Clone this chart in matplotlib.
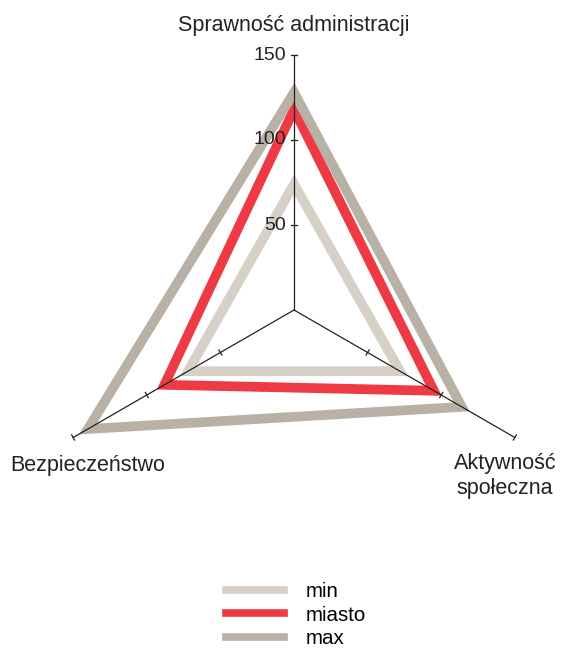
import numpy as np
import matplotlib.pyplot as plt
from matplotlib.patches import Polygon
from matplotlib.lines import Line2D

plt.rcParams['font.family'] = ['Liberation Sans', 'DejaVu Sans']

# Data
categories = ['Sprawność administracji', 'Aktywność\nspołeczna', 'Bezpieczeństwo']
series_names = ['min', 'miasto', 'max']
min_vals = [74, 72, 72]
miasto_vals = [118, 95, 88]
max_vals = [128, 114, 140]
tick_values = [50, 100, 150]
colors = ['#d6d0c7', '#ee3a44', '#b9b1a5']

angles = np.deg2rad([90, -30, 210])
r_max = 150
scale = 1.7  # px per unit

fig = plt.figure(figsize=(5.61, 6.5), dpi=100)
ax = fig.add_axes([0, 0, 1, 1])
ax.set_xlim(-294 / scale, (561 - 294) / scale)
ax.set_ylim((310 - 650) / scale, 310 / scale)
ax.axis('off')


def to_xy(vals):
    vals = np.asarray(vals, dtype=float)
    return np.column_stack([vals * np.cos(angles), vals * np.sin(angles)])


# series polygons
for name, vals, c in zip(series_names, [min_vals, miasto_vals, max_vals], colors):
    poly = Polygon(to_xy(vals), closed=True, fill=False, edgecolor=c,
                   linewidth=7, joinstyle='miter', zorder=2)
    ax.add_patch(poly)

# axes lines with ticks
tick_half = 3 / scale
for a in angles:
    ax.plot([0, r_max * np.cos(a)], [0, r_max * np.sin(a)], color='#222222',
            lw=0.9, zorder=3)
    px, py = -np.sin(a), np.cos(a)
    for t in tick_values:
        cx, cy = t * np.cos(a), t * np.sin(a)
        ax.plot([cx - tick_half * px, cx + tick_half * px],
                [cy - tick_half * py, cy + tick_half * py],
                color='#222222', lw=0.9, zorder=3)

# tick labels on top axis
for t in tick_values:
    ax.text(-8 / scale, t, str(t), ha='right', va='center', fontsize=14,
            color='#222222', zorder=4)

# category labels
ax.text(0, (310 - 25) / scale, categories[0], ha='center', va='center',
        fontsize=15.5, color='#222222')
ax.text((505 - 294) / scale, (310 - 476) / scale, categories[1], ha='center',
        va='center', fontsize=15.5, color='#222222', linespacing=1.25)
ax.text((88 - 294) / scale, (310 - 466) / scale, categories[2], ha='center',
        va='center', fontsize=15.5, color='#222222')

# legend
handles = [Line2D([], [], color=c, lw=5.5) for c in colors]
fig.legend(handles, series_names, loc='upper left',
           bbox_to_anchor=(226 / 561, 1 - 582 / 650), frameon=False,
           fontsize=14.8, handlelength=2.8, handletextpad=1.1,
           labelspacing=0.22, borderpad=0, borderaxespad=0)

fig.savefig('out.png', dpi=100)
